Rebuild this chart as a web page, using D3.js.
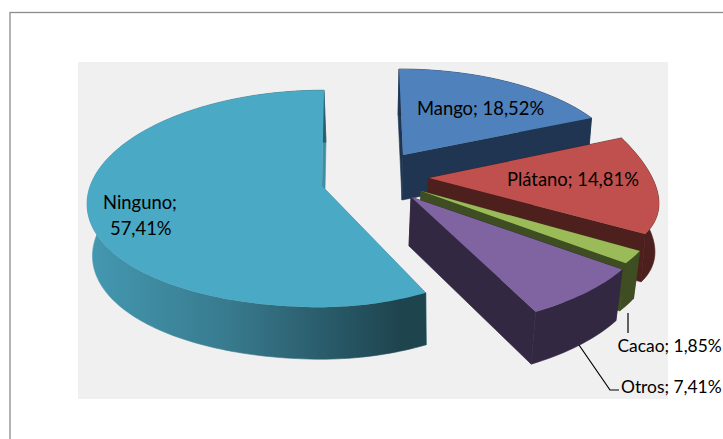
<!DOCTYPE html>
<html>
<head>
<meta charset="utf-8">
<script src="https://d3js.org/d3.v7.min.js"></script>
<style>
html, body { margin: 0; padding: 0; background: #fff; overflow: hidden; }
svg { display: block; }
text { font-family: Lato, "Open Sans", sans-serif; font-size: 18.4px; fill: #000; }
text.edge { font-size: 17.4px; }
</style>
</head>
<body>
<script>
// order follows the pie clockwise from 12 o'clock
var categories = ["Mango", "Plátano", "Cacao", "Otros", "Ninguno"];
var percents = [18.52, 14.81, 1.85, 7.41, 57.41];

var topColors = ["#4f81bd", "#c0504d", "#9bbb59", "#8064a2", "#4aa9c4"];
var sideColors = ["#1f3552", "#4d1f1d", "#3e4d22", "#332842", "url(#ningunoSide)"];

// each exploded slice has its own fake 3d projection, fitted by eye
// tilt pushes the side of the rim down, the real chart has perspective there
var views = [
    {ax: 403, ay: 155, rx: 220, ry: 99.5, px: .157, py: .157, sh: -4.6, tilt: 0, bx: -1, drop: 45, kx: .985, ky: .985},
    {ax: 429, ay: 178, rx: 226, ry: 109.4, px: .115, py: -.115, sh: -16, tilt: 6, bx: -4, drop: 49, kx: 1, ky: .98},
    {ax: 421, ay: 191, rx: 240, ry: 114, px: .1, py: .1, sh: 0, tilt: 0, bx: -2, drop: 49, kx: .98, ky: .98},
    {ax: 411, ay: 197, rx: 238, ry: 110, px: .16, py: .16, sh: 0, tilt: 0, bx: -2, drop: 49, kx: .98, ky: 1.03},
    {ax: 322, ay: 186, rx: 235, ry: 107, px: 0, py: .117, sh: 2, tilt: 17, bx: 2, drop: 52, kx: .985, ky: 1}
];

var labels = [
    {i: 0, x: 417, y: 115, lines: 1},
    {i: 1, x: 507, y: 186, lines: 1},
    {i: 2, x: 617.5, y: 352, lines: 1, edge: true},
    {i: 3, x: 621, y: 393, lines: 1, edge: true},
    {i: 4, x: 103, y: 209, lines: 2}
];

var svg = d3.select("body").append("svg").attr("width", 723).attr("height", 439);

var grad = svg.append("defs").append("linearGradient")
    .attr("id", "ningunoSide")
    .attr("gradientUnits", "userSpaceOnUse")
    .attr("x1", 90).attr("x2", 400).attr("y1", 0).attr("y2", 0);
grad.append("stop").attr("offset", "0").attr("stop-color", "#4398b0");
grad.append("stop").attr("offset", "0.45").attr("stop-color", "#387a8e");
grad.append("stop").attr("offset", "1").attr("stop-color", "#1e444e");

// frame runs off the right and bottom of the picture
svg.append("rect").attr("x", 10).attr("y", 12.5).attr("width", 800).attr("height", 600)
    .attr("fill", "#fff").attr("stroke", "#8c8c8c").attr("stroke-width", 1.3);
svg.append("rect").attr("x", 78).attr("y", 62).attr("width", 590).attr("height", 337).attr("fill", "#f0f0f0");

function project(v, a, bottom) {
    var c = Math.cos(a), s = Math.sin(a);
    var dx = (v.rx * s + v.sh * c) / (1 + v.px * c);
    var lean = (v.tilt > 0 && (s < 0) == (v.sh > 0)) ? v.tilt * s * s : 0;
    var dy = (-v.ry * c + lean) / (1 + v.py * c);
    if (bottom)
        return [v.ax + v.bx + dx * v.kx, v.ay + v.drop + dy * v.ky];
    return [v.ax + dx, v.ay + dy];
}
function apex(v, bottom) {
    return bottom ? [v.ax + v.bx, v.ay + v.drop] : [v.ax, v.ay];
}
function arcPoints(v, a0, a1, bottom) {
    var n = Math.max(8, Math.ceil((a1 - a0) * 40));
    return d3.range(n + 1).map(function (k) {
        return project(v, a0 + (a1 - a0) * k / n, bottom);
    });
}

var line = d3.line().curve(d3.curveLinear);
var pie = d3.pie().sort(null).startAngle(0).endAngle(2 * Math.PI);
var slices = pie(percents);

var sliceG = svg.selectAll("g.slice").data(slices).enter().append("g").attr("class", "slice");

sliceG.each(function (d, i) {
    var g = d3.select(this), v = views[i];
    var a0 = d.startAngle, a1 = d.endAngle;
    var topArc = arcPoints(v, a0, a1, false);
    var botArc = arcPoints(v, a0, a1, true);
    var wallColor = i == 4 ? "#3f8ea4" : sideColors[i];

    // cut faces first, then the rim, the top goes over everything
    [a0, a1].forEach(function (a) {
        var wall = [apex(v, false), project(v, a, false), project(v, a, true), apex(v, true)];
        g.append("path").attr("d", line(wall) + "Z").attr("fill", wallColor)
            .attr("stroke", wallColor).attr("stroke-width", .6);
    });
    g.append("path").attr("d", line(topArc.concat(botArc.slice().reverse())) + "Z")
        .attr("fill", sideColors[i]).attr("stroke", sideColors[i]).attr("stroke-width", .6);
    g.append("path").attr("d", line([apex(v, false)].concat(topArc)) + "Z").attr("fill", topColors[i]);
});

// leader lines
var leaders = [
    [[628, 313], [628, 333]],
    [[579, 345], [610, 390], [619, 390]]
];
svg.selectAll("path.leader").data(leaders).enter().append("path")
    .attr("class", "leader")
    .attr("d", function (d) { return line(d); })
    .attr("fill", "none").attr("stroke", "#000").attr("stroke-width", 1.2);

var fmt = function (p) { return p.toFixed(2).replace(".", ",") + "%"; };

labels.forEach(function (l) {
    var name = categories[l.i], val = fmt(percents[l.i]);
    if (l.lines == 1) {
        svg.append("text").attr("class", l.edge ? "edge" : null)
            .attr("x", l.x).attr("y", l.y).text(name + "; " + val);
    } else {
        svg.append("text").attr("x", l.x).attr("y", l.y).text(name + ";");
        svg.append("text").attr("x", l.x + 7).attr("y", l.y + 26).text(val);
    }
});
</script>
</body>
</html>
